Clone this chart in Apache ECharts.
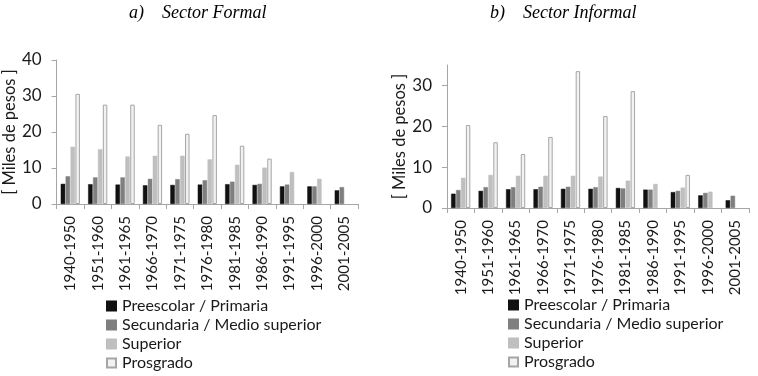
<!DOCTYPE html>
<html><head><meta charset="utf-8">
<script src="https://cdn.jsdelivr.net/npm/echarts@6/dist/echarts.min.js"></script>
<style>html,body{margin:0;padding:0;background:#fff}#c{width:758px;height:376px}</style>
</head><body><div id="c"></div>
<script>
const categories = ['1940-1950','1951-1960','1961-1965','1966-1970','1971-1975','1976-1980','1981-1985','1986-1990','1991-1995','1996-2000','2001-2005'];
const seriesNames = ['Preescolar / Primaria','Secundaria / Medio superior','Superior','Prosgrado'];
// Sector Formal
const formalPrimaria   = [5.6,5.5,5.4,5.2,5.3,5.4,5.5,5.3,4.9,4.9,3.8];
const formalSecundaria = [7.7,7.4,7.4,7.0,6.9,6.6,6.2,5.6,5.4,4.9,4.7];
const formalSuperior   = [15.9,15.2,13.2,13.4,13.4,12.4,10.9,10.1,8.9,7.0,null];
const formalPosgrado   = [30.6,27.6,27.6,22.0,19.5,24.7,16.2,12.6,null,null,null];
// Sector Informal
const informalPrimaria   = [3.5,4.2,4.6,4.6,4.7,4.7,4.9,4.5,3.9,3.1,1.9];
const informalSecundaria = [4.4,5.1,5.1,5.2,5.2,5.1,4.8,4.5,4.2,3.7,3.0];
const informalSuperior   = [7.4,8.1,7.9,7.9,7.9,7.7,6.7,5.9,5.0,4.0,null];
const informalPosgrado   = [20.3,16.1,13.2,17.4,33.5,22.5,28.6,null,8.1,null,null];
const yTicksFormal = [0,10,20,30,40];
const yTicksInformal = [0,10,20,30];

const FONT = 'Lato';
const colors = ['#111111','#7f7f7f','#bfbfbf','#f2f2f2'];
const borders = ['#111111','#7f7f7f','#bfbfbf','#a6a6a6'];
const axisColor = '#a6a6a6';
const textColor = '#1a1a1a';

function mkSeries(name, data, idx, gi){
  return {
    name, type:'bar', xAxisIndex:gi, yAxisIndex:gi, data,
    barGap:'10%', barCategoryGap:'30%',
    itemStyle:{color:colors[idx], borderColor:borders[idx], borderWidth: idx===3?1:0.5},
    emphasis:{disabled:true}
  };
}
const chart = echarts.init(document.getElementById('c'));
const xAxisCommon = {
  type:'category', data:categories,
  axisLine:{lineStyle:{color:axisColor}},
  axisTick:{show:true, length:5, lineStyle:{color:axisColor}},
  axisLabel:{rotate:90, margin:12, fontFamily:FONT, fontSize:15, color:textColor, interval:0}
};
const legendCommon = {data:seriesNames, orient:'vertical', itemWidth:9, itemHeight:9, itemGap:3, padding:0,
  icon:'rect', selectedMode:false, textStyle:{fontFamily:FONT, fontSize:16, color:textColor, padding:[0,0,0,1]}};
const titleStyle = {fontFamily:'Liberation Serif', fontStyle:'italic', fontWeight:'normal', fontSize:18, color:'#000'};
function yAxis(gi, maxV, ticks, nameGap){
  return {
    gridIndex:gi, type:'value', min:ticks[0], max:maxV, interval:10,
    name:'[ Miles de pesos ]', nameLocation:'middle', nameRotate:90, nameGap,
    nameTextStyle:{fontFamily:FONT, fontSize:16.5, color:textColor},
    axisLine:{show:true, lineStyle:{color:axisColor}},
    axisTick:{show:true, length:5, lineStyle:{color:axisColor}, customValues:ticks},
    splitLine:{show:false},
    axisLabel:{fontFamily:FONT, fontSize:17, color:textColor, margin:15, customValues:ticks}
  };
}
chart.setOption({
  animation:false,
  title:[
    {text:'a)\u2002  Sector Formal', left:129, top:4, padding:0, textStyle:titleStyle},
    {text:'b)\u2002  Sector Informal', left:490, top:4, padding:0, textStyle:titleStyle}
  ],
  grid:[
    {left:55, top:60, width:303, height:144},
    {left:447, top:65, width:302, height:143}
  ],
  xAxis:[Object.assign({gridIndex:0}, xAxisCommon), Object.assign({gridIndex:1}, xAxisCommon)],
  yAxis:[
    yAxis(0, yTicksFormal[yTicksFormal.length-1], yTicksFormal, 35),
    yAxis(1, 35, yTicksInformal, 38)
  ],
  legend:[
    Object.assign({left:106, top:298}, legendCommon),
    Object.assign({left:508, top:297}, legendCommon)
  ],
  series:[
    mkSeries(seriesNames[0], formalPrimaria, 0, 0),
    mkSeries(seriesNames[1], formalSecundaria, 1, 0),
    mkSeries(seriesNames[2], formalSuperior, 2, 0),
    mkSeries(seriesNames[3], formalPosgrado, 3, 0),
    mkSeries(seriesNames[0], informalPrimaria, 0, 1),
    mkSeries(seriesNames[1], informalSecundaria, 1, 1),
    mkSeries(seriesNames[2], informalSuperior, 2, 1),
    mkSeries(seriesNames[3], informalPosgrado, 3, 1)
  ]
});
</script></body></html>
